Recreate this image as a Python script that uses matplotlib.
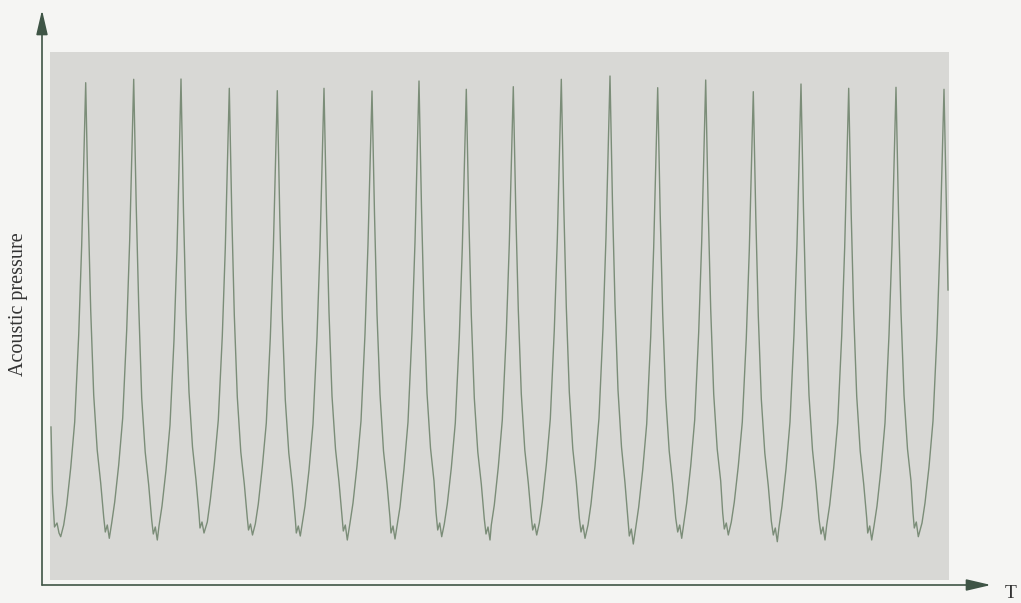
import matplotlib
matplotlib.use('Agg')
import matplotlib.pyplot as plt

# waveform (time and pressure in arbitrary units)
time = [
    1, 2.5, 4.5, 7, 9, 10.7,
    13.7, 16.7, 20.7, 24.7, 28.7, 31.7, 33.7, 35.7, 37.2, 38.2, 40.7, 43.7, 47.2, 50.7, 53.7, 55.3, 57.3, 59.3,
    61.7, 64.7, 68.7, 72.7, 76.7, 79.7, 81.7, 83.7, 85.2, 86.2, 88.7, 91.7, 95.2, 98.7, 101.7, 103.3, 105.3, 107.3,
    109, 112, 116, 120, 124, 127, 129, 131, 132.5, 133.5, 136, 139, 142.5, 146, 149, 150, 152, 154,
    157.3, 160.3, 164.3, 168.3, 172.3, 175.3, 177.3, 179.3, 180.8, 181.8, 184.3, 187.3, 190.8, 194.3, 197.3, 198.5, 200.5, 202.5,
    205.3, 208.3, 212.3, 216.3, 220.3, 223.3, 225.3, 227.3, 228.8, 229.8, 232.3, 235.3, 238.8, 242.3, 245.3, 246.3, 248.3, 250.3,
    252, 255, 259, 263, 267, 270, 272, 274, 275.5, 276.5, 279, 282, 285.5, 289, 292, 293.3, 295.3, 297.3,
    300, 303, 307, 311, 315, 318, 320, 322, 323.5, 324.5, 327, 330, 333.5, 337, 340, 341, 343, 345,
    347, 350, 354, 358, 362, 365, 367, 369, 370.5, 371.5, 374, 377, 380.5, 384, 386, 387.7, 389.7, 391.7,
    394.3, 397.3, 401.3, 405.3, 409.3, 412.3, 414.3, 416.3, 417.8, 418.8, 421.3, 424.3, 427.8, 431.3, 434.3, 436, 438, 440,
    441.3, 444.3, 448.3, 452.3, 456.3, 459.3, 461.3, 463.3, 464.8, 465.8, 468.3, 471.3, 474.8, 478.3, 481.3, 482.7, 484.7, 486.7,
    489.3, 492.3, 496.3, 500.3, 504.3, 507.3, 509.3, 511.3, 512.8, 513.8, 516.3, 519.3, 522.8, 526.3, 529.3, 531, 533, 535,
    538, 541, 545, 549, 553, 556, 558, 560, 561.5, 562.5, 565, 568, 571.5, 575, 578, 579.3, 581.3, 583.3,
    585.7, 588.7, 592.7, 596.7, 600.7, 603.7, 605.7, 607.7, 609.2, 610.2, 612.7, 615.7, 619.2, 622.7, 625.7, 627.7, 629.7, 631.7,
    633.7, 636.7, 640.7, 644.7, 648.7, 651.7, 653.7, 655.7, 657.2, 658.2, 660.7, 663.7, 667.2, 670.7, 672.7, 674.3, 676.3, 678.3,
    681.3, 684.3, 688.3, 692.3, 696.3, 699.3, 701.3, 703.3, 704.8, 705.8, 708.3, 711.3, 714.8, 718.3, 721.3, 723.3, 725.3, 727.3,
    729, 732, 736, 740, 744, 747, 749, 751, 752.5, 753.5, 756, 759, 762.5, 766, 769, 771, 773, 775,
    776.7, 779.7, 783.7, 787.7, 791.7, 794.7, 796.7, 798.7, 800.2, 801.2, 803.7, 806.7, 810.2, 813.7, 816.7, 817.7, 819.7, 821.7,
    824, 827, 831, 835, 839, 842, 844, 846, 847.5, 848.5, 851, 854, 857.5, 861, 863, 864.3, 866.3, 868.3,
    872, 875, 879, 883, 887, 890, 892, 894, 895.5, 896.5, 898,
]
pressure = [
    153, 87, 53, 57, 47, 43.3,
    55, 75, 112, 158, 245, 335, 415, 497.3, 420, 370, 270, 185, 130, 97, 63, 48, 55, 41.7,
    57, 78, 115, 162, 250, 340, 420, 500.7, 425, 375, 275, 182, 128, 95, 60, 46, 53, 40,
    54, 74, 110, 155, 240, 330, 412, 501, 418, 368, 268, 188, 133, 100, 66, 52, 58, 47,
    58, 80, 116, 160, 244, 332, 410, 491.7, 415, 365, 265, 183, 128, 96, 62, 50, 56, 45,
    56, 76, 113, 157, 242, 330, 408, 489.3, 412, 362, 262, 180, 127, 95, 61, 47, 54, 44,
    55, 74, 110, 156, 243, 333, 412, 491.7, 418, 367, 268, 184, 131, 98, 64, 49, 55, 40,
    57, 77, 114, 159, 246, 336, 414, 489, 416, 366, 266, 186, 129, 96, 62, 47, 54, 41,
    54, 73, 111, 158, 248, 338, 418, 499, 422, 372, 272, 187, 132, 99, 68, 50, 57, 43.3,
    56, 76, 112, 157, 243, 332, 411, 490.7, 414, 364, 265, 182, 128, 96, 61, 46, 53, 40,
    55, 75, 113, 160, 247, 336, 414, 493.3, 417, 368, 270, 186, 130, 97, 63, 50, 56, 45,
    57, 78, 115, 161, 250, 340, 419, 500.7, 424, 373, 273, 188, 131, 98, 62, 48, 55, 41.7,
    55, 76, 114, 162, 252, 343, 422, 504, 426, 376, 276, 190, 133, 97, 60, 44, 51, 36,
    52, 73, 110, 156, 243, 333, 411, 492.3, 416, 366, 266, 183, 129, 96, 62, 48, 55, 41.7,
    56, 77, 114, 160, 248, 338, 418, 500, 421, 371, 271, 186, 131, 99, 67, 51, 57, 45,
    58, 78, 114, 158, 242, 330, 408, 488.3, 412, 363, 264, 181, 127, 94, 59, 45, 52, 38.3,
    53, 74, 111, 158, 246, 336, 416, 496, 420, 370, 270, 185, 130, 96, 61, 46, 53, 40,
    55, 75, 112, 157, 244, 333, 412, 491.7, 416, 366, 267, 184, 129, 96, 62, 47, 54, 40,
    54, 74, 111, 157, 245, 335, 414, 492.7, 418, 368, 268, 185, 131, 99, 67, 52, 58, 43.3,
    57, 77, 113, 159, 246, 336, 414, 490.7, 418, 368, 290,
]

fig = plt.figure(figsize=(10.21, 6.03), dpi=100)
fig.patch.set_facecolor('#f5f5f3')

# shaded plot box
ax = fig.add_axes([50/1021, 23/603, 899/1021, 528/603])
ax.set_facecolor('#d8d8d5')
ax.plot(time, pressure, color='#7b8d78', lw=1.0)
ax.set_xlim(0, 899)
ax.set_ylim(0, 528)
ax.set_xticks([])
ax.set_yticks([])
for s in ax.spines.values():
    s.set_visible(False)

# hand-drawn style axes with arrows
arrow = dict(arrowstyle='-|>,head_length=1.5,head_width=0.35', color='#3f5546', lw=1.2, shrinkA=0, shrinkB=0)
fig.add_artist(plt.Annotation('', xy=(42, 593), xytext=(42, 18), xycoords='figure pixels',
                              textcoords='figure pixels', arrowprops=arrow))
fig.add_artist(plt.Annotation('', xy=(991, 18), xytext=(42, 18), xycoords='figure pixels',
                              textcoords='figure pixels', arrowprops=arrow))

fig.text(18/1021, 1 - 304/603, 'Acoustic pressure', rotation=90, ha='center', va='center',
         family='Liberation Serif', fontsize=14.5, color='#333333')
fig.text(1005/1021, 1 - 585/603, 'T', ha='left', va='top',
         family='Liberation Serif', fontsize=14, color='#333333')

fig.savefig('out.png', dpi=100, facecolor=fig.get_facecolor())
